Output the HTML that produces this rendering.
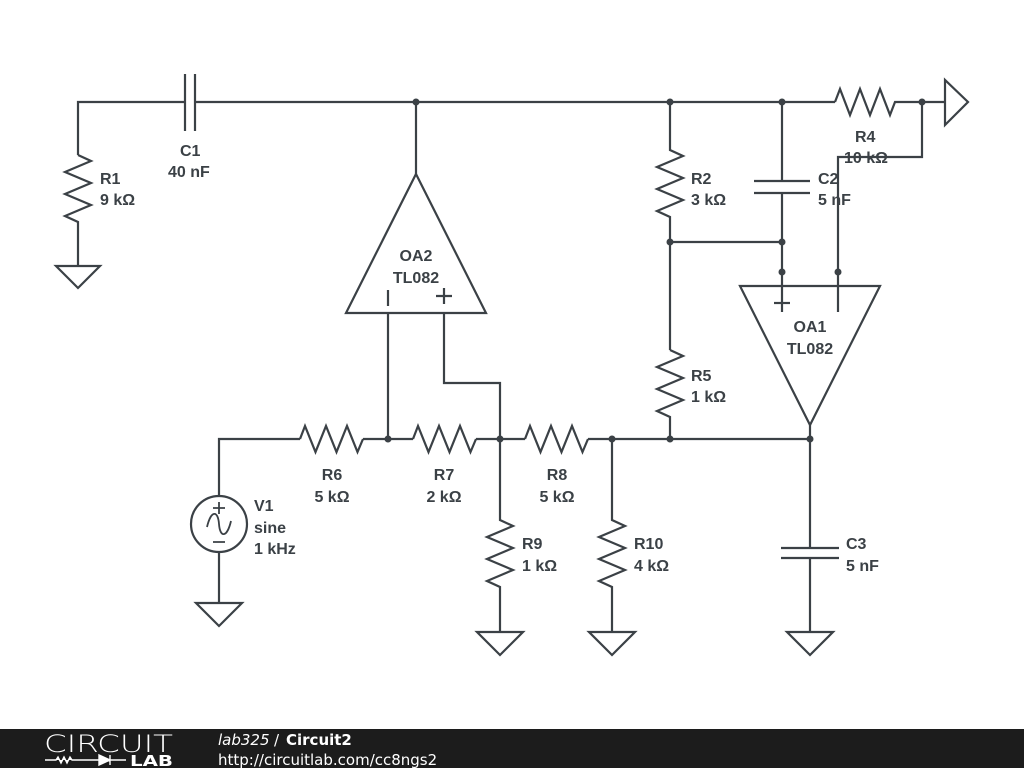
<!DOCTYPE html>
<html><head><meta charset="utf-8"><style>
html,body{margin:0;padding:0;background:#fff;width:1024px;height:768px;overflow:hidden}
svg{display:block}
</style></head><body>
<svg width="1024" height="768" viewBox="0 0 1024 768">
<g fill="none" stroke="#3b4146" stroke-width="2.2" stroke-linejoin="miter">
<path d="M78 155 V102 H185 M195 102 H835 M898 102 H945"/>
<path d="M185 74 V131 M195 74 V131"/>
<path d="M78 155 l13 6 l-26 11 l26 11 l-26 11 l26 11 l-26 11 l13 6 V266"/>
<path d="M56 266 H100 L78 288 Z"/>
<path d="M416 102 V174"/>
<path d="M416 174 L486 313 H346 Z"/>
<path d="M388 290 V306 M436 296 H452 M444 288 V304"/>
<path d="M388 313 V439 M444 313 V383 H500 V439"/>
<path d="M835 102 l5 -13 l10 26 l10 -26 l10 26 l10 -26 l10 26 l5 -13 h3"/>
<path d="M945 80 V125 L968 102 Z"/>
<path d="M922 102 V157 H838 V312"/>
<path d="M670 102 V150 l13 6 l-26 11 l26 11 l-26 11 l26 11 l-26 11 l13 6 V350"/>
<path d="M670 242 H782"/>
<path d="M782 102 V181 M754 181 H810 M754 193 H810 M782 193 V312"/>
<path d="M774 303 H790"/>
<path d="M740 286 H880 L810 425 Z"/>
<path d="M670 350 l13 6 l-26 11 l26 11 l-26 11 l26 11 l-26 11 l13 6 V439"/>
<path d="M219 496 V439 H300 M363 439 H413 M476 439 H525 M588 439 H810 V548 M810 425 V439"/>
<path d="M300 439 l5 -13 l10.5 26 l10.5 -26 l10.5 26 l10.5 -26 l10.5 26 l5.5 -13"/>
<path d="M413 439 l5 -13 l10.5 26 l10.5 -26 l10.5 26 l10.5 -26 l10.5 26 l5.5 -13"/>
<path d="M525 439 l5 -13 l10.5 26 l10.5 -26 l10.5 26 l10.5 -26 l10.5 26 l5.5 -13"/>
<path d="M781 548 H839 M781 558 H839 M810 558 V632"/>
<path d="M787 632 H833 L810 655 Z"/>
<path d="M500 439 V520 l13 6 l-26 11 l26 11 l-26 11 l26 11 l-26 11 l13 6 V632"/>
<path d="M477 632 H523 L500 655 Z"/>
<path d="M612 439 V520 l13 6 l-26 11 l26 11 l-26 11 l26 11 l-26 11 l13 6 V632"/>
<path d="M589 632 H635 L612 655 Z"/>
<circle cx="219" cy="524" r="28"/>
<path d="M219 552 V603 M196 603 H242 L219 626 Z"/>
<path d="M207 527 C211 510 218 510 219 524 C220 538 227 538 231 521" stroke-width="1.8"/>
<path d="M213 508 H225 M219 502 V514 M213 542 H225" stroke-width="1.8"/>
</g>
<g fill="#3b4146">
<circle cx="416" cy="102" r="3.5"/><circle cx="670" cy="102" r="3.5"/><circle cx="782" cy="102" r="3.5"/><circle cx="922" cy="102" r="3.5"/>
<circle cx="670" cy="242" r="3.5"/><circle cx="782" cy="242" r="3.5"/><circle cx="782" cy="272" r="3.5"/><circle cx="838" cy="272" r="3.5"/>
<circle cx="388" cy="439" r="3.5"/><circle cx="500" cy="439" r="3.5"/><circle cx="612" cy="439" r="3.5"/><circle cx="670" cy="439" r="3.5"/><circle cx="810" cy="439" r="3.5"/>
</g>
<g font-family="Liberation Sans, sans-serif" font-weight="bold" font-size="16" fill="#3b4146">
<text x="100" y="184">R1</text><text x="100" y="205">9 kΩ</text>
<text x="180" y="156">C1</text><text x="168" y="177">40 nF</text>
<text x="416" y="261" text-anchor="middle">OA2</text><text x="416" y="283" text-anchor="middle">TL082</text>
<text x="691" y="184">R2</text><text x="691" y="205">3 kΩ</text>
<text x="818" y="184">C2</text><text x="818" y="205">5 nF</text>
<text x="855" y="142">R4</text><text x="844" y="163">10 kΩ</text>
<text x="810" y="332" text-anchor="middle">OA1</text><text x="810" y="354" text-anchor="middle">TL082</text>
<text x="691" y="381">R5</text><text x="691" y="402">1 kΩ</text>
<text x="332" y="480" text-anchor="middle">R6</text><text x="332" y="502" text-anchor="middle">5 kΩ</text>
<text x="444" y="480" text-anchor="middle">R7</text><text x="444" y="502" text-anchor="middle">2 kΩ</text>
<text x="557" y="480" text-anchor="middle">R8</text><text x="557" y="502" text-anchor="middle">5 kΩ</text>
<text x="254" y="511">V1</text><text x="254" y="533">sine</text><text x="254" y="554">1 kHz</text>
<text x="522" y="549">R9</text><text x="522" y="571">1 kΩ</text>
<text x="634" y="549">R10</text><text x="634" y="571">4 kΩ</text>
<text x="846" y="549">C3</text><text x="846" y="571">5 nF</text>
</g>
<rect x="0" y="729" width="1024" height="39" fill="#1c1c1c"/>
<g font-family="DejaVu Sans, Liberation Sans, sans-serif" fill="#fff">
<text x="44" y="752" font-size="24" font-weight="200" textLength="129" lengthAdjust="spacingAndGlyphs">CIRCUIT</text>
<text x="130" y="766" font-size="15" font-weight="bold" textLength="43" lengthAdjust="spacingAndGlyphs">LAB</text>
<path d="M45 760 H56 l2 -3 l3 6 l3 -6 l3 6 l3 -6 l2 3 H99 M99 755 V765 L110 760 Z M110 755 V765 M110 760 H126" stroke="#fff" stroke-width="1.4" fill="#fff"/>
<text x="218" y="745" font-size="15" font-style="italic">lab325</text>
<text x="274" y="745" font-size="15">/</text>
<text x="286" y="745" font-size="15" font-weight="bold">Circuit2</text>
<text x="218" y="765" font-size="15">http://circuitlab.com/cc8ngs2</text>
</g>
</svg>
</body></html>
